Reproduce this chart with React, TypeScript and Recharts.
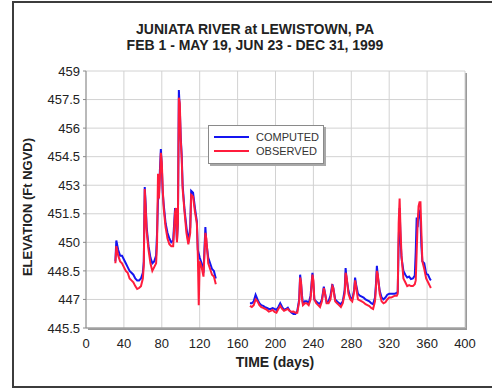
import { LineChart, Line, XAxis, YAxis, CartesianGrid, Legend } from 'recharts'

// day of year; null row breaks the line between the two record periods
const days = [
  31, 32, 34, 36, 38, 40, 42, 44, 46, 48, 50, 52, 54, 56, 58, 60, 61, 62, 63, 64, 66, 68, 70, 72, 74, 75, 76, 77, 78, 79,
  80, 81, 82, 84, 86, 88, 90, 92, 94, 95, 96, 97, 98, 99, 100, 101, 102, 104, 106, 108, 110, 111, 113, 115, 117, 118, 119,
  120, 122, 124, 126, 127, 129, 131, 133, 135, 137,
  155,
  173, 175, 177, 179, 181, 183, 185, 187, 189, 191, 193, 195, 197, 199, 201, 203, 205, 207, 209, 211, 213, 215, 217, 219,
  221, 223, 225, 226, 227, 228, 229, 231, 233, 235, 237, 239, 240, 241, 243, 245, 247, 249, 251, 252, 254, 256, 258, 260,
  261, 263, 265, 267, 269, 271, 273, 274, 275, 277, 279, 281, 283, 284, 285, 287, 289, 291, 293, 295, 297, 299, 301, 303,
  305, 306, 307, 308, 310, 312, 314, 316, 318, 320, 322, 324, 326, 328, 329, 330, 331, 332, 333, 335, 337, 339, 341, 343,
  345, 347, 348, 349, 350, 351, 352, 353, 354, 355, 357, 359, 361, 363, 364,
]

const computed = [
  449.0, 450.1, 449.6, 449.3, 449.3, 449.1, 448.9, 448.7, 448.5, 448.4, 448.3, 448.1, 448.0, 448.0, 448.1, 448.4, 449.0,
  452.9, 452.0, 450.8, 449.8, 449.2, 448.9, 449.0, 449.3, 450.5, 452.2, 452.5, 453.8, 454.9, 454.0, 452.6, 452.0, 451.0,
  450.5, 450.2, 450.0, 450.1, 451.8, 451.0, 450.1, 451.0, 458.0, 457.0, 455.5, 454.6, 453.0, 451.7, 450.8, 450.0, 450.8,
  452.7, 452.6, 451.8, 451.1, 449.6, 449.4, 449.2, 448.9, 448.4, 450.8, 450.0, 449.2, 448.9, 448.6, 448.5, 448.1,
  null,
  446.8, 446.8, 446.9, 447.24, 447.0, 446.8, 446.7, 446.66, 446.6, 446.55, 446.5, 446.5, 446.55, 446.5, 446.45, 446.6,
  446.8, 446.6, 446.45, 446.5, 446.57, 446.4, 446.3, 446.24, 446.24, 446.4, 447.0, 448.3, 447.8, 447.2, 446.77, 446.9,
  446.9, 446.8, 447.2, 448.4, 447.8, 447.0, 446.9, 446.8, 446.77, 447.0, 447.67, 447.4, 446.84, 446.9, 447.2, 447.8,
  447.6, 447.0, 446.9, 446.8, 446.75, 446.9, 447.5, 448.65, 448.1, 447.45, 447.1, 447.0, 447.5, 448.15, 447.8, 447.3,
  447.2, 447.15, 447.1, 447.0, 446.95, 446.9, 446.8, 446.75, 447.1, 447.8, 448.77, 448.2, 447.45, 447.1, 447.0, 447.1,
  447.25, 447.3, 447.3, 447.3, 447.3, 447.35, 447.4, 450.0, 451.8, 450.1, 449.2, 448.5, 448.3, 448.15, 448.2, 448.07,
  448.1, 448.25, 449.5, 451.3, 450.8, 451.5, 451.6, 451.2, 449.8, 449.0, 448.9, 448.35, 448.3, 448.07, 448.0,
]

const observed = [
  448.9, 449.8, 449.3, 449.0, 448.9, 448.7, 448.5, 448.4, 448.1, 448.0, 447.9, 447.7, 447.55, 447.6, 447.7, 448.1, 448.8,
  452.8, 451.8, 450.6, 449.6, 448.9, 448.5, 448.7, 448.9, 450.0, 453.6, 452.3, 453.4, 454.7, 454.2, 452.8, 451.8, 450.8,
  450.2, 449.9, 449.8, 449.8, 451.6, 451.8, 450.0, 451.0, 457.6, 457.3, 455.4, 454.4, 452.8, 451.6, 450.5, 449.9, 450.5,
  452.5, 452.4, 451.6, 451.0, 449.4, 446.7, 449.0, 448.7, 448.2, 450.5, 450.2, 448.9, 448.6, 448.3, 448.2, 447.8,
  null,
  446.66, 446.6, 446.7, 447.0, 446.9, 446.7, 446.6, 446.56, 446.5, 446.45, 446.36, 446.4, 446.45, 446.35, 446.3, 446.5,
  446.66, 446.5, 446.4, 446.45, 446.5, 446.4, 446.35, 446.36, 446.3, 446.3, 446.9, 448.15, 447.9, 447.0, 446.7, 446.8,
  446.8, 446.7, 447.0, 448.3, 448.0, 447.0, 446.8, 446.7, 446.6, 446.9, 447.6, 447.4, 446.8, 446.8, 447.0, 447.7,
  447.6, 446.9, 446.8, 446.7, 446.6, 446.8, 447.3, 448.4, 448.2, 447.3, 447.0, 446.9, 447.4, 448.0, 447.7, 447.0,
  446.95, 446.9, 446.84, 446.75, 446.7, 446.65, 446.55, 446.5, 446.9, 447.6, 448.5, 448.3, 447.3, 446.9, 446.8, 446.85,
  447.0, 447.1, 447.1, 447.15, 447.2, 447.2, 447.3, 451.0, 452.3, 450.6, 449.3, 448.1, 447.9, 447.7, 447.75, 447.7,
  447.7, 447.8, 448.0, 449.5, 451.0, 451.9, 452.1, 452.1, 450.5, 449.0, 448.6, 448.1, 447.9, 447.7, 447.6,
]

const xTicks = [0, 40, 80, 120, 160, 200, 240, 280, 320, 360, 400]
const yTicks = [445.5, 447, 448.5, 450, 451.5, 453, 454.5, 456, 457.5, 459]

const data = days.map((d, i) => ({ day: d, computed: computed[i], observed: observed[i] }))

const font = '"Liberation Sans", Arial, sans-serif'

function LegendBox({ payload }: any) {
  return (
    <div
      style={{
        background: '#fff',
        border: '1px solid #8a8a8a',
        boxShadow: '2px 2px 0 #a8a8a8',
        padding: '4px 0 5px 5px',
        fontFamily: font,
        fontSize: 11,
        color: '#333',
        lineHeight: '14px',
      }}
    >
      {(payload || []).map((p: any) => (
        <div key={p.value} style={{ display: 'flex', alignItems: 'center' }}>
          <span style={{ display: 'inline-block', width: 35, height: 2, background: p.color, marginRight: 7 }} />
          <span>{p.value}</span>
        </div>
      ))}
    </div>
  )
}

export default function App() {
  return (
    <div style={{ position: 'absolute', left: 0, top: 0, width: 492, height: 388, overflow: 'hidden', background: '#fff' }}>
      {/* outer frame, runs off the right edge */}
      <div style={{ position: 'absolute', left: 12, top: 1, width: 500, height: 383, border: '2px solid #3c3c3c' }} />
      <div
        style={{
          position: 'absolute',
          left: 0,
          width: 510,
          top: 21,
          textAlign: 'center',
          fontFamily: font,
          fontWeight: 'bold',
          fontSize: 14,
          lineHeight: '16px',
          color: '#222',
        }}
      >
        JUNIATA RIVER at LEWISTOWN, PA
        <br />
        FEB 1 - MAY 19, JUN 23 - DEC 31, 1999
      </div>
      {/* plot drop shadow */}
      <div style={{ position: 'absolute', left: 88, top: 73, width: 379, height: 257, background: '#9a9a9a' }} />
      <div style={{ position: 'absolute', left: 0, top: 0 }}>
        <LineChart width={492} height={388} data={data} margin={{ top: 71, right: 27, left: 16, bottom: 0 }}>
          <CartesianGrid stroke="#d2d2d2" fill="#fff" />
          <XAxis
            type="number"
            dataKey="day"
            domain={[0, 400]}
            ticks={xTicks}
            height={60}
            tickSize={0}
            tickMargin={11}
            axisLine={{ stroke: '#8a8a8a' }}
            tick={{ fill: '#222', fontSize: 13, fontFamily: font }}
          />
          <YAxis
            type="number"
            domain={[445.5, 459]}
            ticks={yTicks}
            width={70}
            tickSize={3}
            tickMargin={3}
            allowDataOverflow
            axisLine={{ stroke: '#8a8a8a' }}
            tickLine={{ stroke: '#8a8a8a' }}
            tick={{ fill: '#222', fontSize: 13, fontFamily: font }}
          />
          <Legend
            layout="vertical"
            align="center"
            verticalAlign="middle"
            content={<LegendBox />}
            wrapperStyle={{ position: 'absolute', left: 208, top: 125, width: 116, bottom: 'auto', right: 'auto' }}
          />
          <Line
            type="linear"
            dataKey="computed"
            name="COMPUTED"
            stroke="#1515f0"
            strokeWidth={2}
            dot={false}
            isAnimationActive={false}
          />
          <Line
            type="linear"
            dataKey="observed"
            name="OBSERVED"
            stroke="#ff1c3c"
            strokeWidth={2}
            dot={false}
            isAnimationActive={false}
          />
        </LineChart>
      </div>
      <div
        style={{
          position: 'absolute',
          left: 275,
          top: 362,
          transform: 'translate(-50%, -50%)',
          fontFamily: font,
          fontWeight: 'bold',
          fontSize: 14,
          color: '#222',
          whiteSpace: 'nowrap',
        }}
      >
        TIME (days)
      </div>
      <div
        style={{
          position: 'absolute',
          left: 27,
          top: 207,
          transform: 'translate(-50%, -50%) rotate(-90deg)',
          fontFamily: font,
          fontWeight: 'bold',
          fontSize: 13,
          color: '#222',
          whiteSpace: 'nowrap',
        }}
      >
        ELEVATION (Ft NGVD)
      </div>
    </div>
  )
}
